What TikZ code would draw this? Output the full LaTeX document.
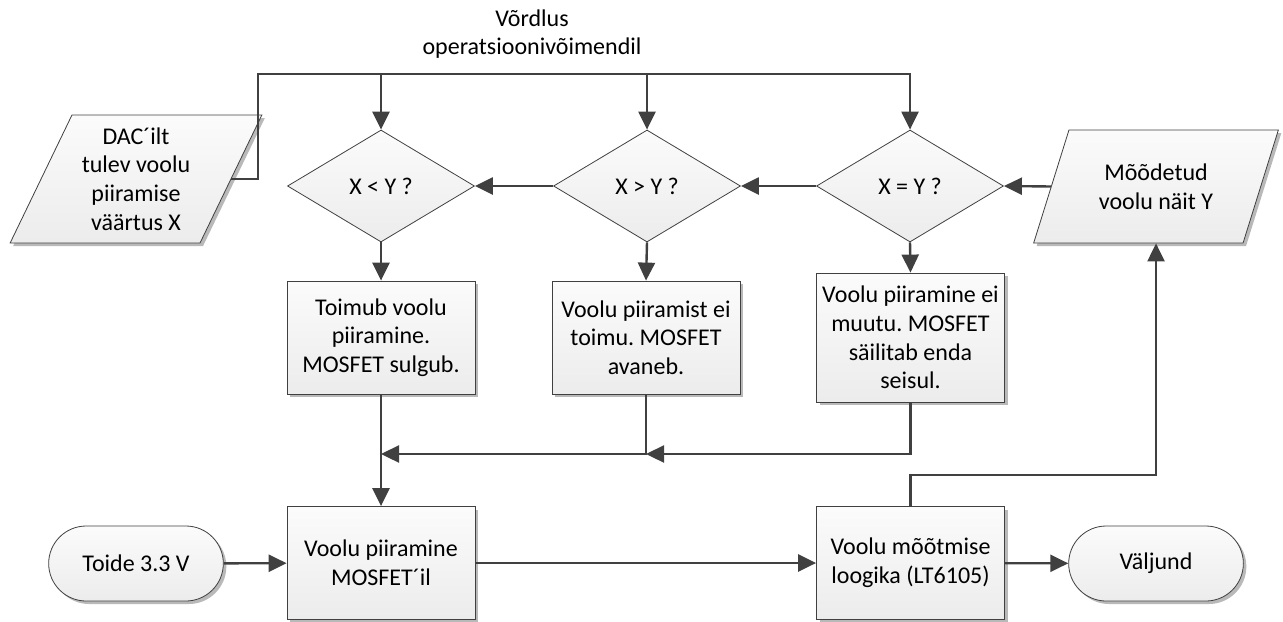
\documentclass[tikz,border=0pt]{standalone}
\usepackage{fontspec}
\setmainfont{Carlito}
\usetikzlibrary{shapes.geometric,shapes.misc,arrows.meta,positioning,shadows}
\definecolor{linegray}{HTML}{404040}

\begin{document}
\frenchspacing
\begin{tikzpicture}[
    x=0.5pt, y=-0.5pt,
    every node/.style={font=\fontsize{12}{14.3}\selectfont, align=center},
    base/.style={
        draw=linegray, line width=0.4pt,
        top color=gray!3, bottom color=gray!15
    },
    shade/.style={
        drop shadow={shadow xshift=1.5pt, shadow yshift=-1.5pt,
                     fill=gray!55, opacity=1}
    },
    process/.style={
        base, shade, rectangle,
        minimum width=94pt, minimum height=56.5pt, inner sep=2pt
    },
    decision/.style={
        base, diamond,
        minimum width=93.5pt, minimum height=56pt, inner sep=0pt
    },
    io/.style={
        base, shade, trapezium,
        trapezium left angle=63, trapezium right angle=117,
        trapezium stretches=true, inner sep=0pt
    },
    terminal/.style={
        base, shade, rounded rectangle,
        minimum width=94pt, minimum height=37.5pt
    },
    arrow/.style={-{Triangle[length=9pt,width=8.5pt]}, draw=linegray, line width=1.2pt},
    line/.style={draw=linegray, line width=1.2pt}
]
\useasboundingbox (0,0) rectangle (1283,621);

% Vordlus
\node (title) at (532,34) {Võrdlus\\operatsioonivõimendil};
\coordinate (busL) at (258,74);

% Sisendid
\node[io, minimum width=126pt, minimum height=64pt] (dac) at (136,179)
    {DAC´ilt\\tulev voolu\\piiramise\\väärtus X};
\node[io, minimum width=123pt, minimum height=56.5pt] (meas) at (1156,186.5)
    {Mõõdetud\\voolu näit Y};

% Vordlused
\node[decision] (lt) at (381,186) {X < Y ?};
\node[decision] (gt) at (647,186) {X > Y ?};
\node[decision] (eq) at (910,186) {X = Y ?};

% Tulemused
\node[process] (res1) at (381,337.5) {Toimub voolu\\piiramine.\\MOSFET sulgub.};
\node[process] (res2) at (646,337.5) {Voolu piiramist ei\\toimu. MOSFET\\avaneb.};
\node[process, minimum height=64.5pt] (res3) at (910.5,337.5) {Voolu piiramine ei\\muutu. MOSFET\\säilitab enda\\seisul.};

% Alumine rida
\node[terminal] (toide) at (136,563.5) {Toide 3.3 V};
\node[process] (mos) at (381,563) {Voolu piiramine\\MOSFET´il};
\node[process] (mm) at (910.5,563) {Voolu mõõtmise\\loogika (LT6105)};
\node[terminal] (valj) at (1156,563.5) {Väljund};

% Siin vordlusteni
\draw[arrow] (dac.east) -| (busL) -| (eq.north);
\draw[arrow] (lt.north |- busL) -- (lt.north);
\draw[arrow] (gt.north |- busL) -- (gt.north);

% Y vordlustesse
\draw[arrow] (meas.west) -- (eq.east);
\draw[arrow] (eq.west) -- (gt.east);
\draw[arrow] (gt.west) -- (lt.east);

% Vordlustest tulemusteni
\draw[arrow] (lt.south) -- (res1.north);
\draw[arrow] (gt.south) -- (res2.north);
\draw[arrow] (eq.south) -- (res3.north);

% Kokku
\coordinate (j2) at (646,454);
\coordinate (j1) at (381,454);
\draw[arrow] (res3.south) |- (j2);
\draw[arrow] (res2.south) -- (j2) -- (j1);
\draw[arrow] (res1.south) -- (mos.north);

% Alumine rida
\draw[arrow] (toide) -- (mos);
\draw[arrow] (mos) -- (mm);
\draw[arrow] (mm) -- (valj);
\draw[arrow] (mm.north) -- (mm.north |- 0,475) -| (meas.south);

\end{tikzpicture}
\end{document}
